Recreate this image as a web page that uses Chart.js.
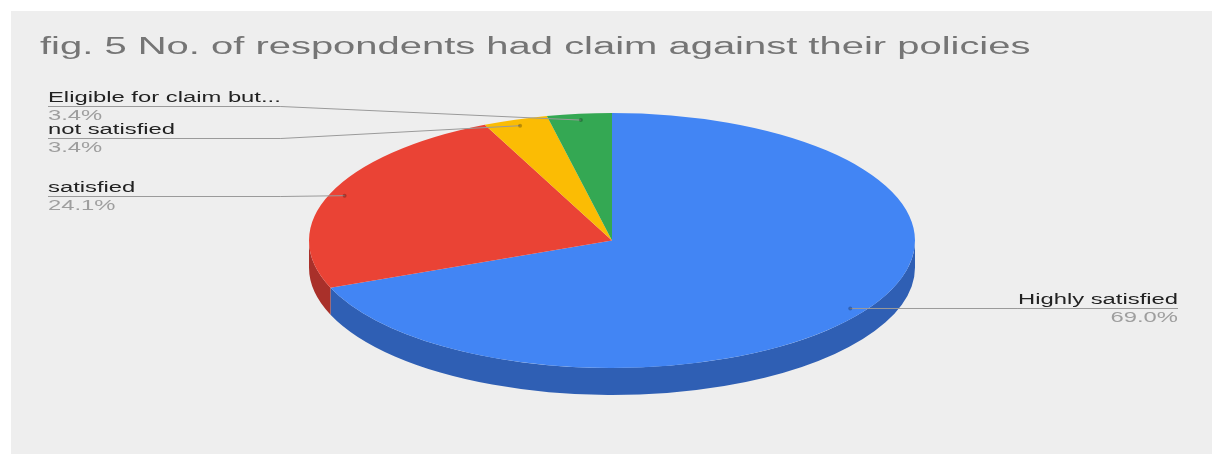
<!DOCTYPE html>
<html>
<head>
<meta charset="utf-8">
<title>Claims against policies</title>
<script src="https://cdn.jsdelivr.net/npm/chart.js@4.4.1/dist/chart.umd.min.js"></script>
<style>
  body { margin: 0; background: #fff; }
  #panel { position: absolute; left: 11px; top: 11px; right: 0; bottom: 0; background: #eeeeee; }
  #claimsChart { position: absolute; left: 0; top: 0; }
</style>
</head>
<body>
<div id="panel"></div>
<canvas id="claimsChart" width="1212" height="454"></canvas>
<script>
const chartTitle = 'fig. 5 No. of respondents had claim against their policies';
const categories = ['Highly satisfied', 'satisfied', 'not satisfied', 'Eligible for claim but...'];
const respondents = [20, 7, 1, 1];
const sliceColors = ['#4285f4', '#ea4335', '#fbbc04', '#34a853'];
const rimColors = ['#2f5fb4', '#a9302a', '#b48703', '#25793c'];

// tilted pie: ellipse radii and rim thickness, text is drawn wide to suit
const RX = 303, RY = 127.5, DEPTH = 27;
const STRETCH = 1.7;
const FONT = '"Liberation Sans", Arial, sans-serif';

// where each slice's label sits (y is the leader line under the name)
const labelSpots = [
  { x: 1178, y: 308, align: 'right' },
  { x: 48, y: 196, align: 'left' },
  { x: 48, y: 138, align: 'left' },
  { x: 48, y: 106, align: 'left' }
];

function wideText(ctx, text, x, y, size, color, align) {
  ctx.save();
  ctx.font = size + 'px ' + FONT;
  ctx.fillStyle = color;
  ctx.textAlign = align;
  ctx.textBaseline = 'alphabetic';
  ctx.translate(x, y);
  ctx.scale(STRETCH, 1);
  ctx.fillText(text, 0, 0);
  ctx.restore();
}

function wideWidth(ctx, text, size) {
  ctx.save();
  ctx.font = size + 'px ' + FONT;
  const w = ctx.measureText(text).width * STRETCH;
  ctx.restore();
  return w;
}

// draws the rim first, then squashes the circle Chart.js draws into the ellipse
const pie3d = {
  id: 'pie3d',
  beforeDatasetsDraw(chart) {
    const ctx = chart.ctx;
    const arcs = chart.getDatasetMeta(0).data;
    const cx = arcs[0].x, cy = arcs[0].y, r = arcs[0].outerRadius;

    arcs.forEach((arc, i) => {
      // only the front half of the rim is visible
      const a = Math.max(arc.startAngle, 0);
      const b = Math.min(arc.endAngle, Math.PI);
      if (b <= a) return;
      ctx.beginPath();
      ctx.ellipse(cx, cy, RX, RY, 0, a, b);
      ctx.ellipse(cx, cy + DEPTH, RX, RY, 0, b, a, true);
      ctx.closePath();
      ctx.fillStyle = rimColors[i];
      ctx.fill();
    });

    ctx.save();
    ctx.translate(cx, cy);
    ctx.scale(RX / r, RY / r);
    ctx.translate(-cx, -cy);
  },
  afterDatasetsDraw(chart) {
    chart.ctx.restore();
  }
};

const pieLabels = {
  id: 'pieLabels',
  afterDraw(chart) {
    const ctx = chart.ctx;
    const arcs = chart.getDatasetMeta(0).data;
    const cx = arcs[0].x, cy = arcs[0].y;
    const total = respondents.reduce((s, v) => s + v, 0);
    const pcts = respondents.map(v => (v / total * 100).toFixed(1) + '%');

    wideText(ctx, chartTitle, 40, 54, 23.5, '#757575', 'left');

    // leader lines run under the widest label on each side
    const sideWidth = { left: 0, right: 0 };
    labelSpots.forEach((s, i) => {
      const w = Math.max(wideWidth(ctx, categories[i], 14), wideWidth(ctx, pcts[i], 14));
      sideWidth[s.align] = Math.max(sideWidth[s.align], w);
    });

    arcs.forEach((arc, i) => {
      const spot = labelSpots[i];
      const mid = (arc.startAngle + arc.endAngle) / 2;
      const px = cx + 0.95 * RX * Math.cos(mid);
      const py = cy + 0.95 * RY * Math.sin(mid);
      const dir = spot.align === 'left' ? 1 : -1;

      ctx.save();
      ctx.strokeStyle = '#9a9a9a';
      ctx.lineWidth = 1;
      ctx.beginPath();
      ctx.moveTo(spot.x, spot.y + 0.5);
      ctx.lineTo(spot.x + dir * sideWidth[spot.align], spot.y + 0.5);
      ctx.lineTo(px, py);
      ctx.stroke();
      ctx.fillStyle = 'rgba(0,0,0,0.25)';
      ctx.beginPath();
      ctx.arc(px, py, 2, 0, Math.PI * 2);
      ctx.fill();
      ctx.restore();

      wideText(ctx, categories[i], spot.x, spot.y - 4, 14, '#222222', spot.align);
      wideText(ctx, pcts[i], spot.x, spot.y + 14, 14, '#9e9e9e', spot.align);
    });
  }
};

new Chart(document.getElementById('claimsChart'), {
  type: 'pie',
  data: {
    labels: categories,
    datasets: [{
      data: respondents,
      backgroundColor: sliceColors,
      borderWidth: 0,
      clip: false
    }]
  },
  options: {
    responsive: false,
    animation: false,
    events: [],
    layout: { padding: { left: 462, right: 450, top: 90, bottom: 63 } },
    plugins: {
      legend: { display: false },
      title: { display: false },
      tooltip: { enabled: false }
    }
  },
  plugins: [pie3d, pieLabels]
});
</script>
</body>
</html>
